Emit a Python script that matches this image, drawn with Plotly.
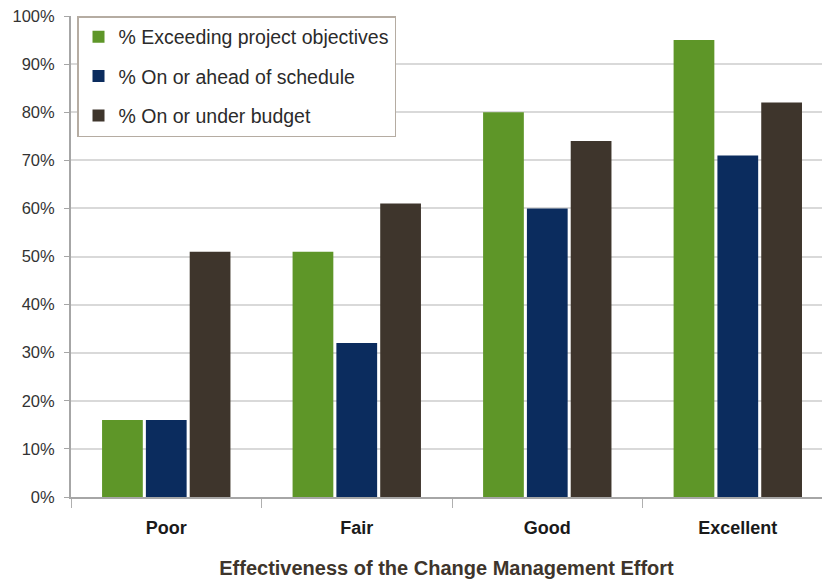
import plotly.graph_objects as go

categories = ["Poor", "Fair", "Good", "Excellent"]
series_names = ["% Exceeding project objectives", "% On or ahead of schedule", "% On or under budget"]
exceeding = [16, 51, 80, 95]
schedule = [16, 32, 60, 71]
budget = [51, 61, 74, 82]
colors = ["#5e9628", "#0b2c5e", "#3e352c"]
y_ticks = [0, 10, 20, 30, 40, 50, 60, 70, 80, 90, 100]

FONT = "Arial, Liberation Sans, sans-serif"

fig = go.Figure()
for i, (name, vals) in enumerate(zip(series_names, [exceeding, schedule, budget])):
    fig.add_trace(go.Bar(
        x=categories, y=vals, name=name,
        marker=dict(color=colors[i], line=dict(width=0)),
        legendgroup=f"g{i}",
    ))

fig.update_layout(
    width=822, height=581,
    margin=dict(l=71, r=0, t=16, b=84),
    paper_bgcolor="white", plot_bgcolor="white",
    barmode="group", bargap=0.31, bargroupgap=0.07,
    font=dict(family=FONT, color="#333333"),
    showlegend=True,
    legend=dict(
        x=0.008, y=1.0, xanchor="left", yanchor="top",
        bgcolor="white", bordercolor="#b5aca2", borderwidth=1.5,
        font=dict(size=19.5, color="#2b2b2b"),
        traceorder="grouped", tracegroupgap=11, itemwidth=30,
    ),
    xaxis=dict(
        range=[-0.5, 3.442],
        tickson="boundaries", ticks="outside", ticklen=9, tickcolor="#b0b0b0",
        showline=True, linecolor="#a6a6a6", linewidth=2,
        tickfont=dict(size=18, color="#1a1a1a", family=FONT, weight="bold"),
        ticklabelstandoff=13,
        title=dict(text="<b>Effectiveness of the Change Management Effort</b>",
                   font=dict(size=20, color="#3e352c", family=FONT), standoff=24),
        showgrid=False,
    ),
    yaxis=dict(
        range=[0, 100], tickvals=y_ticks, ticktext=[f"{v}%" for v in y_ticks],
        showgrid=True, gridcolor="#d9d9d9", gridwidth=2,
        showline=True, linecolor="#a6a6a6", linewidth=2,
        ticks="outside", ticklen=5, tickcolor="#a6a6a6",
        tickfont=dict(size=16.5, color="#333333", family=FONT),
        ticklabelstandoff=6,
        zeroline=False,
    ),
)
fig.write_html("out.html")
